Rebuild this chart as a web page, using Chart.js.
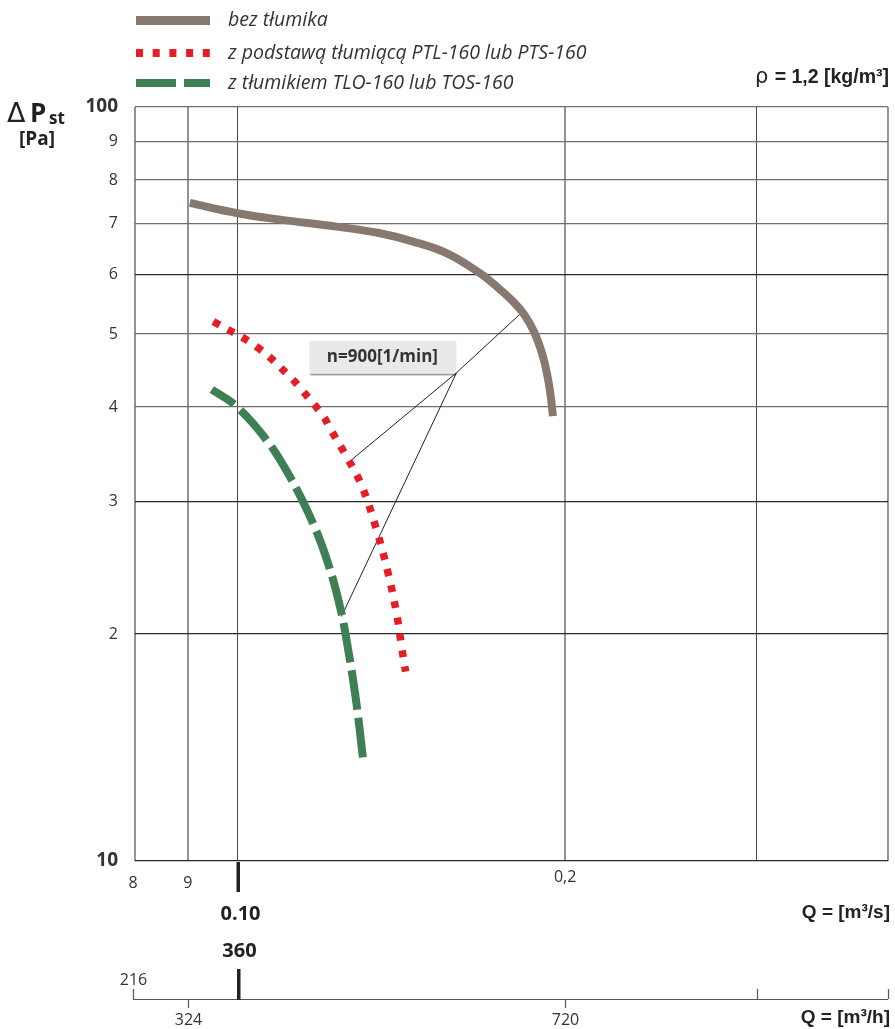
<!DOCTYPE html>
<html><head><meta charset="utf-8">
<script src="https://cdn.jsdelivr.net/npm/chart.js@4.4.1/dist/chart.umd.min.js"></script>
<style>html,body{margin:0;padding:0;background:#fff;overflow:hidden}#wrap{position:relative;width:895px;height:1029px}</style>
</head><body><div id="wrap"><canvas id="c" width="895" height="1029"></canvas></div>
<script>
// ---- data ----
const seriesNames = ['bez tłumika', 'z podstawą tłumiącą PTL-160 lub PTS-160', 'z tłumikiem TLO-160 lub TOS-160'];
const qBez   = [0.0904, 0.1000, 0.1094, 0.1233, 0.1352, 0.1450, 0.1556, 0.1670, 0.1730, 0.1792, 0.1834, 0.1873, 0.1907, 0.1927, 0.1940, 0.1949];
const pBez   = [74.6, 72.3, 70.9, 69.4, 68.0, 66.3, 64.0, 60.2, 57.8, 55.2, 53.05, 50.3, 46.85, 43.9, 41.3, 38.9];
const qPodst = [0.0950, 0.1041, 0.1117, 0.1145, 0.1199, 0.1216, 0.1259, 0.1300, 0.1342, 0.1375, 0.1400, 0.1415, 0.1427];
const pPodst = [51.95, 48.1, 43.9, 42.2, 38.9, 37.5, 34.4, 31.5, 27.5, 24.1, 21.3, 19.25, 17.83];
const qTlum  = [0.0947, 0.0998, 0.1063, 0.1117, 0.1173, 0.1211, 0.1242, 0.1264, 0.1286, 0.1304];
const pTlum  = [42.2, 40.07, 36.2, 32.35, 28.06, 24.83, 21.75, 19.05, 16.19, 13.68];
// leader lines of the "n=900" note: red end -> pivot -> brown end, pivot -> green end
const leaderQ1 = [0.1273, 0.1589, 0.1830];
const leaderP1 = [34.05, 44.4, 53.6];
const leaderQ2 = [0.1589, 0.1246];
const leaderP2 = [44.4, 21.1];
const noteText = 'n=900[1/min]';
const xMin = 0.0805, xMax = 0.396;
const xGridValues = [xMin, 0.09, 0.1, 0.2, 0.3, xMax];
const xTickLabels = ['8', '9', '0.10', '0,2', '', ''];
const hourTickLabels = ['216', '324', '360', '720', '', ''];
const yTickValues = [10, 20, 30, 40, 50, 60, 70, 80, 90, 100];
const yTickLabels = ['10', '2', '3', '4', '5', '6', '7', '8', '9', '100'];
const yTitle = ['\u0394', 'P', 'st', '[Pa]'];
const xTitleS = 'Q = [m\u00B3/s]';
const xTitleH = 'Q = [m\u00B3/h]';
const rhoText = ['\u03C1', ' = 1,2 [kg/m\u00B3]'];

// ---- styles ----
const colBez = '#877970', colPodst = '#e31e24', colTlum = '#3f7f56';
const pts = (qs, ps) => qs.map((q, i) => ({x: q, y: ps[i]}));

const extras = {
  id: 'extras',
  beforeDatasetsDraw(chart) {
    const {ctx, scales: {x, y}} = chart;
    const px = x.getPixelForValue(leaderQ1[1]), py = y.getPixelForValue(leaderP1[1]);
    ctx.save();
    ctx.fillStyle = '#e8e9e9';
    ctx.fillRect(px - 147, py - 32, 147, 34);
    ctx.fillStyle = '#9a9a9a';
    ctx.fillRect(px - 146, py + 1, 146, 1.5);
    ctx.font = 'bold 17px "Open Sans"';
    ctx.fillStyle = '#333';
    ctx.textAlign = 'center'; ctx.textBaseline = 'middle';
    ctx.fillText(noteText, px - 74, py - 16);
    ctx.restore();
  },
  afterDraw(chart) {
    const {ctx, scales: {x, y}} = chart;
    ctx.save();
    ctx.textAlign = 'center'; ctx.textBaseline = 'middle';
    ctx.fillStyle = '#333';
    // upper x labels
    xGridValues.forEach((v, i) => {
      const lab = xTickLabels[i];
      if (!lab) return;
      const px = x.getPixelForValue(v);
      if (lab === '0.10') {
        ctx.fillStyle = '#222';
        ctx.fillRect(Math.round(px) - 1.5, 862, 3.5, 30);
        ctx.font = 'bold 20px "Open Sans"';
        ctx.fillText(lab, px + 3, 914);
      } else {
        ctx.fillStyle = '#333';
        ctx.font = '16px "Open Sans"';
        ctx.fillText(lab, px - (i === 0 ? 2 : 0), lab === '0,2' ? 877 : 883);
      }
    });
    // m3/h axis
    const axY = 999;
    ctx.strokeStyle = '#555'; ctx.lineWidth = 1.2;
    ctx.beginPath();
    ctx.moveTo(x.getPixelForValue(xMin) - 2, axY + 0.5);
    ctx.lineTo(x.getPixelForValue(xMax), axY + 0.5);
    ctx.stroke();
    xGridValues.forEach((v, i) => {
      const px = Math.round(x.getPixelForValue(v)) + 0.5;
      const lab = hourTickLabels[i];
      if (lab === '360') {
        ctx.fillStyle = '#222';
        ctx.fillRect(Math.round(px) - 2, 969, 3.5, 31);
        ctx.font = 'bold 20px "Open Sans"';
        ctx.fillText(lab, px + 1, 951.5);
        return;
      }
      const up = (i === 0 || lab === '');
      const tx = i === 0 ? px - 2 : px;
      ctx.strokeStyle = '#555'; ctx.lineWidth = 1.2;
      ctx.beginPath();
      ctx.moveTo(tx, axY);
      ctx.lineTo(tx, up ? axY - 10 : axY + 9);
      ctx.stroke();
      if (lab) {
        ctx.fillStyle = '#333';
        ctx.font = '16px "Open Sans"';
        ctx.fillText(lab, tx, up ? 980 : 1020);
      }
    });
    // axis titles
    ctx.textAlign = 'right';
    ctx.fillStyle = '#222';
    ctx.font = 'bold 19px "Liberation Sans"';
    ctx.fillText(xTitleS, 890, 913);
    ctx.fillText(xTitleH, 890, 1018);
    // rho
    ctx.textBaseline = 'alphabetic';
    ctx.font = 'bold 19.5px "Liberation Sans"';
    const rw = ctx.measureText(rhoText[1]).width;
    ctx.fillText(rhoText[1], 889, 83);
    ctx.font = '21px "DejaVu Sans"';
    ctx.fillText(rhoText[0], 889 - rw - 1, 83);
    // y title
    ctx.textAlign = 'left';
    ctx.font = '27px "DejaVu Sans"';
    ctx.fillText(yTitle[0], 7, 122);
    ctx.font = 'bold 26px "Open Sans"';
    ctx.fillText(yTitle[1], 30, 122);
    ctx.font = 'bold 17px "Open Sans"';
    ctx.fillText(yTitle[2], 49, 124);
    ctx.textAlign = 'center'; ctx.textBaseline = 'middle';
    ctx.font = 'bold 19px "Open Sans"';
    ctx.fillText(yTitle[3], 37, 140);
    // legend
    const lx0 = 136, lx1 = 210;
    const rows = [
      {y: 20.5, color: colBez, w: 9, dash: []},
      {y: 53, color: colPodst, w: 8, dash: [7, 9.7]},
      {y: 83, color: colTlum, w: 8, dash: [40, 8]}
    ];
    rows.forEach((r, i) => {
      ctx.strokeStyle = r.color; ctx.lineWidth = r.w; ctx.lineCap = 'butt';
      ctx.setLineDash(r.dash);
      ctx.beginPath(); ctx.moveTo(lx0, r.y); ctx.lineTo(lx1, r.y); ctx.stroke();
      ctx.setLineDash([]);
      ctx.fillStyle = '#333';
      ctx.font = 'italic 19.5px "Open Sans"';
      ctx.textAlign = 'left'; ctx.textBaseline = 'middle';
      ctx.fillText(seriesNames[i], 228, r.y);
    });
    ctx.restore();
  }
};

const gridX = v => (Math.abs(v - 0.1) < 1e-6 || Math.abs(v - 0.3) < 1e-6) ? '#4a4a4a' : '#939393';
const gridXw = v => (Math.abs(v - 0.1) < 1e-6 || Math.abs(v - 0.3) < 1e-6) ? 1 : 2;
const darkY = [10, 20, 30, 60];

new Chart(document.getElementById('c'), {
  type: 'line',
  data: {
    datasets: [
      {label: seriesNames[0], data: pts(qBez, pBez), borderColor: colBez, borderWidth: 8, tension: 0.4, borderCapStyle: 'butt'},
      {label: seriesNames[1], data: pts(qPodst, pPodst), borderColor: colPodst, borderWidth: 7.5, borderDash: [7, 9.5], tension: 0.4, borderCapStyle: 'butt'},
      {label: seriesNames[2], data: pts(qTlum, pTlum), borderColor: colTlum, borderWidth: 8, borderDash: [40, 8], borderDashOffset: 13, tension: 0.4, borderCapStyle: 'butt'},
      {label: 'n1', data: pts(leaderQ1, leaderP1), borderColor: '#222', borderWidth: 1, tension: 0},
      {label: 'n2', data: pts(leaderQ2, leaderP2), borderColor: '#222', borderWidth: 1, tension: 0}
    ]
  },
  options: {
    responsive: false, animation: false, devicePixelRatio: 1,
    layout: {padding: {top: 107, right: 7, left: 0, bottom: 0}},
    plugins: {legend: {display: false}, tooltip: {enabled: false}},
    elements: {point: {radius: 0}},
    scales: {
      x: {
        type: 'logarithmic', min: xMin, max: xMax,
        afterFit(s) { s.height = 168; },
        afterBuildTicks(s) { s.ticks = xGridValues.map(v => ({value: v})); },
        ticks: {display: false, autoSkip: false},
        grid: {drawTicks: false, color: c => gridX(c.tick.value), lineWidth: c => gridXw(c.tick.value)},
        border: {display: false}
      },
      y: {
        type: 'logarithmic', min: 10, max: 100,
        afterFit(s) { s.width = 135; },
        afterBuildTicks(s) { s.ticks = yTickValues.map(v => ({value: v})); },
        ticks: {
          autoSkip: false, padding: 17, color: '#333',
          callback: (v, i) => yTickLabels[i],
          font: c => (c.tick && (c.tick.value === 10 || c.tick.value === 100)) ? {family: 'Open Sans', size: 19, weight: 'bold'} : {family: 'Open Sans', size: 16}
        },
        grid: {drawTicks: false, color: c => darkY.includes(c.tick.value) ? '#2a2a2a' : '#6e6e6e', lineWidth: 1.3},
        border: {display: false}
      }
    }
  },
  plugins: [extras]
});
</script>
</body></html>
